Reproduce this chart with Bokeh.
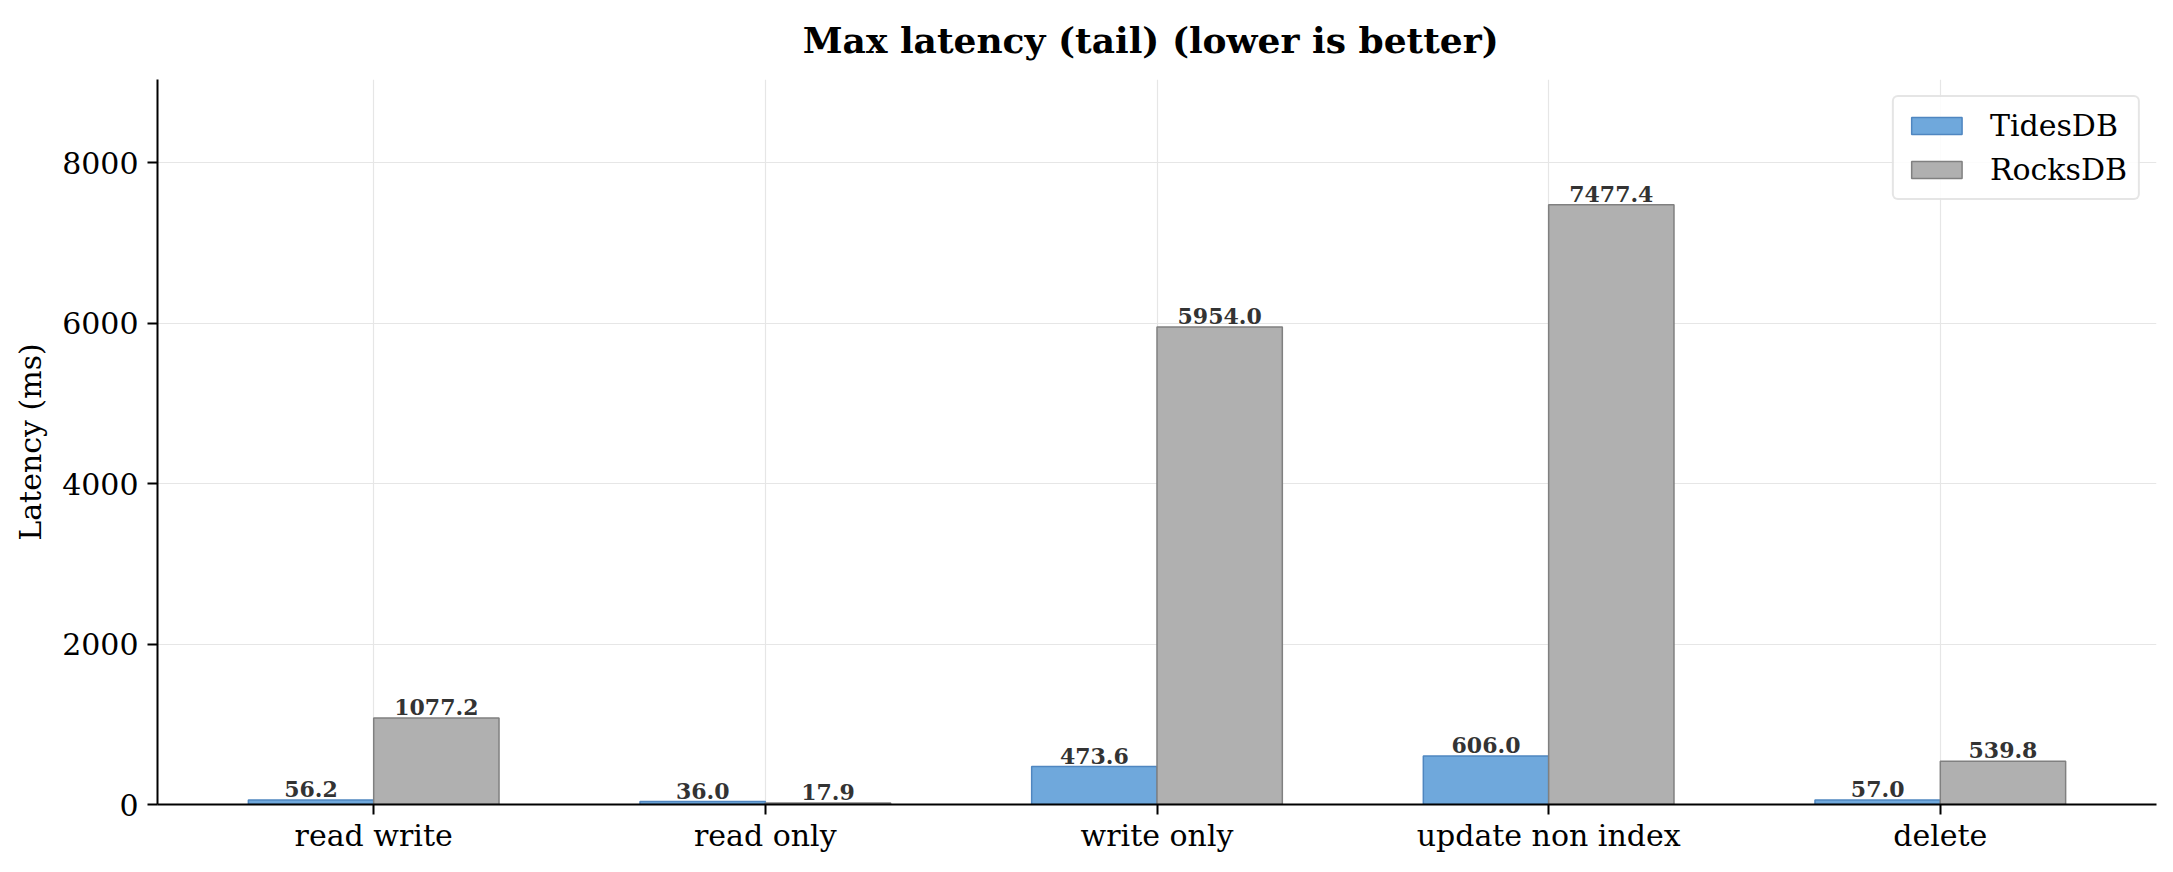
from bokeh.plotting import figure
from bokeh.models import Range1d, FixedTicker, ColumnDataSource, Legend, LegendItem
from bokeh.core.properties import value
from bokeh.embed import file_html
from bokeh.resources import INLINE

categories = ["read write", "read only", "write only", "update non index", "delete"]
tidesdb = [56.2, 36.0, 473.6, 606.0, 57.0]
rocksdb = [1077.2, 17.9, 5954.0, 7477.4, 539.8]
series_names = ["TidesDB", "RocksDB"]
y_ticks = [0, 2000, 4000, 6000, 8000]
title_text = "Max latency (tail)  (lower is better)"

FONT = "DejaVu Serif"
W = 0.32
xs = list(range(len(categories)))

p = figure(width=2157, height=856, output_backend="svg", toolbar_location=None,
           x_range=Range1d(-0.552, 4.552), y_range=Range1d(0, 9040),
           min_border_left=157, min_border_right=1, min_border_top=79, min_border_bottom=52)
p.outline_line_color = None

p.title.text = title_text
p.title.text_font = FONT
p.title.text_font_size = "36px"
p.title.text_font_style = "bold"
p.title.align = "center"
p.title.vertical_align = "top"
p.title.text_color = "black"
p.title.standoff = 34

# axes
for ax in (p.xaxis[0], p.yaxis[0]):
    ax.axis_line_color = "black"
    ax.axis_line_width = 2
    ax.major_tick_line_color = "black"
    ax.major_tick_line_width = 2
    ax.major_tick_out = 10
    ax.major_tick_in = 0
    ax.minor_tick_line_color = None
    ax.major_label_text_font = FONT
    ax.major_label_text_font_size = "30px"
    ax.major_label_text_color = "black"
p.yaxis.major_label_standoff = 9
p.xaxis.major_label_standoff = 3

p.xaxis.ticker = FixedTicker(ticks=xs)
p.xaxis.major_label_overrides = {i: c for i, c in enumerate(categories)}
p.yaxis.ticker = FixedTicker(ticks=y_ticks)
p.yaxis.axis_label = "Latency (ms)"
p.yaxis.axis_label_text_font = FONT
p.yaxis.axis_label_text_font_size = "30px"
p.yaxis.axis_label_text_font_style = "normal"
p.yaxis.axis_label_text_color = "black"
p.yaxis.axis_label_standoff = 11

p.xgrid.ticker = FixedTicker(ticks=xs)
p.ygrid.ticker = FixedTicker(ticks=y_ticks)
for g in (p.xgrid[0], p.ygrid[0]):
    g.grid_line_color = "#e6e6e6"
    g.grid_line_width = 1.2

left_src = ColumnDataSource(dict(x=[i - W / 2 for i in xs], top=tidesdb,
                                 lbl=["%.1f" % v for v in tidesdb]))
right_src = ColumnDataSource(dict(x=[i + W / 2 for i in xs], top=rocksdb,
                                  lbl=["%.1f" % v for v in rocksdb]))

r1 = p.vbar(x="x", top="top", width=W, bottom=0, source=left_src,
            fill_color="#6fa8dc", line_color="#4f86c0", line_width=1.5)
r2 = p.vbar(x="x", top="top", width=W, bottom=0, source=right_src,
            fill_color="#b0b0b0", line_color="#808080", line_width=1.5)

for src in (left_src, right_src):
    p.text(x="x", y="top", text="lbl", source=src, text_align="center",
           text_baseline="alphabetic", y_offset=-11,
           text_font=value(FONT), text_font_size="22px", text_font_style="bold",
           text_color="#333333")

legend = Legend(items=[LegendItem(label=series_names[0], renderers=[r1]),
                       LegendItem(label=series_names[1], renderers=[r2])],
                location="top_right")
legend.label_text_font = FONT
legend.label_text_font_size = "30px"
legend.label_text_color = "black"
legend.glyph_width = 63
legend.glyph_height = 21
legend.label_height = 21
legend.label_standoff = 22
legend.spacing = 9
legend.padding = 11
legend.margin = 16
legend.border_line_color = "#cccccc"
legend.border_line_width = 2
legend.background_fill_alpha = 0.85
if "border_radius" in Legend.properties():
    legend.border_radius = 6
p.add_layout(legend)

open("out.html", "w").write(file_html(p, INLINE))
